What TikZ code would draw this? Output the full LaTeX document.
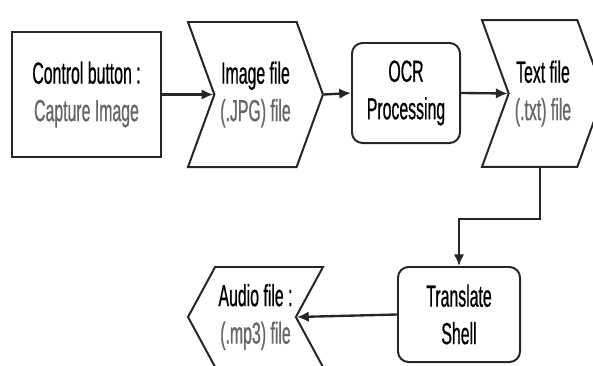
\documentclass[tikz,border=0pt]{standalone}
\usepackage{fontspec}
\setmainfont{Liberation Sans}[FakeStretch=0.52, FakeBold=0.6]
\usetikzlibrary{arrows.meta,shapes.symbols}

\tikzset{
  base/.style={draw=black!85, line width=1.7pt, fill=white, align=center,
    inner sep=2pt, font=\fontsize{26}{32}\selectfont},
  ctrlbox/.style={base, rectangle},
  procbox/.style={base, rectangle, rounded corners=9pt},
  filebox/.style={base, signal},
  flow/.style={draw=black!85, line width=2pt, -{Latex[length=10pt,width=9pt]}},
}
\newcommand{\sub}[1]{\textcolor{black!60}{#1}}

\begin{document}
\begin{tikzpicture}[x=0.03cm,y=-0.03cm]
  \useasboundingbox (0,0) rectangle (593,365);
  \clip (0,0) rectangle (593,365);

  % top row
  \node[ctrlbox, minimum width=4.47cm, minimum height=3.75cm] (ctrl) at (86.5,94.5)
    {Control button :\\\sub{Capture Image}};
  \node[filebox, signal from=west, signal to=east, signal pointer angle=140,
    minimum width=4.05cm, minimum height=4.35cm] (img) at (255.5,94.5)
    {Image file\\\sub{(.JPG) file}};
  \node[procbox, minimum width=3.24cm, minimum height=3.0cm] (ocr) at (406,93)
    {OCR\\Processing};
  \node[filebox, signal from=west, signal to=east, signal pointer angle=140,
    minimum width=3.66cm, minimum height=4.4cm] (txt) at (543,93.5)
    {Text file\\\sub{(.txt) file}};

  % bottom row
  \node[procbox, minimum width=3.66cm, minimum height=2.85cm] (trans) at (459,314.5)
    {Translate\\Shell};
  \node[filebox, signal from=east, signal to=west, signal pointer angle=123,
    minimum width=4.05cm, minimum height=3.0cm] (audio) at (255.5,317)
    {Audio file :\\\sub{(.mp3) file}};

  \draw[flow] (ctrl.east) -- (img.west);
  \draw[flow] (img.east) -- (ocr.west);
  \draw[flow] (ocr.east) -- (txt.west);
  \draw[flow] ([xshift=-0.09cm]txt.south) -- ++(0,-1.53cm) -| (trans.north);
  \draw[flow] (trans.west) -- (audio.east);
\end{tikzpicture}
\end{document}
